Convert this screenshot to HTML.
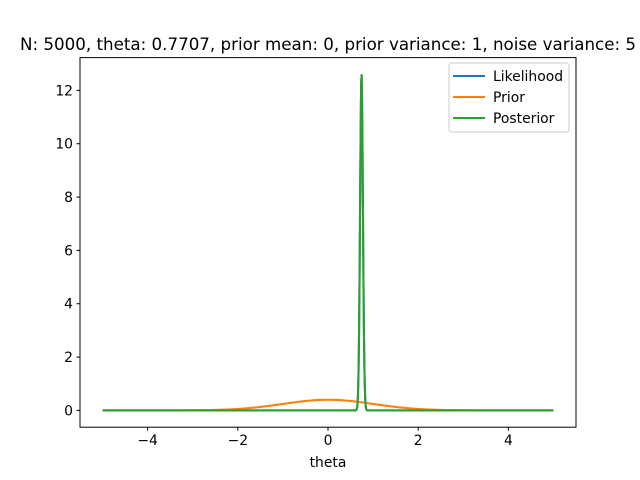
<!DOCTYPE html>
<html><head><meta charset="utf-8"><style>
body{margin:0;background:#fff}
svg{display:block;font-family:"DejaVu Sans","Liberation Sans",sans-serif}
</style></head><body>
<svg id="chart" width="640" height="480" viewBox="0 0 640 480">
<rect width="640" height="480" fill="#fff"/>
<text x="328" y="50" font-size="16.7" text-anchor="middle">N: 5000, theta: 0.7707, prior mean: 0, prior variance: 1, noise variance: 5</text>
<g id="plot"></g>
<g id="xticks"></g>
<g id="yticks"></g>
<rect x="80" y="57.6" width="496" height="369.6" fill="none" stroke="#000" stroke-width="1"/>
<text x="328" y="467" font-size="13.9" text-anchor="middle">theta</text>
<g>
<rect x="449" y="63" width="120" height="69" rx="3" fill="#fff" fill-opacity="0.8" stroke="#ccc"/>
<line x1="453" y1="76" x2="485" y2="76" stroke="#1f77b4" stroke-width="2.08"/>
<text x="493" y="81" font-size="13.9">Likelihood</text>
<line x1="453" y1="97" x2="485" y2="97" stroke="#ff7f0e" stroke-width="2.08"/>
<text x="493" y="102" font-size="13.9">Prior</text>
<line x1="453" y1="118" x2="485" y2="118" stroke="#2ca02c" stroke-width="2.08"/>
<text x="493" y="123" font-size="13.9">Posterior</text>
</g>
</svg>
<script>
const seriesNames = ["Likelihood", "Prior", "Posterior"];
const seriesMeans = [0.743, 0, 0.743];
const seriesVariances = [0.001, 1, 0.000999];
const seriesColors = ["#1f77b4", "#ff7f0e", "#2ca02c"];
const xTickValues = [-4, -2, 0, 2, 4];
const yTickValues = [0, 2, 4, 6, 8, 10, 12];
const xDomain = [-5, 5];
const nPoints = 1000;

const NS = "http://www.w3.org/2000/svg";
const xMin = -5.5, xMax = 5.5, yMin = -0.63, yMax = 13.23;
const L = 80, R = 576, T = 57.6, B = 427.2;
function sx(v){return L + (v - xMin) / (xMax - xMin) * (R - L);}
function sy(v){return B - (v - yMin) / (yMax - yMin) * (B - T);}
function pdf(x, m, v){return Math.exp(-(x-m)*(x-m)/(2*v)) / Math.sqrt(2*Math.PI*v);}

const plot = document.getElementById('plot');
seriesNames.forEach((name, i) => {
  let d = "";
  for (let k = 0; k < nPoints; k++) {
    const x = xDomain[0] + (xDomain[1]-xDomain[0]) * k / (nPoints-1);
    const y = pdf(x, seriesMeans[i], seriesVariances[i]);
    d += (k ? "L" : "M") + sx(x).toFixed(2) + "," + sy(y).toFixed(2);
  }
  const p = document.createElementNS(NS, "path");
  p.setAttribute("d", d);
  p.setAttribute("fill", "none");
  p.setAttribute("stroke", seriesColors[i]);
  p.setAttribute("stroke-width", "2.08");
  p.setAttribute("stroke-linejoin", "round");
  
  
  plot.appendChild(p);
});

const xg = document.getElementById('xticks');
xTickValues.forEach(v => {
  const l = document.createElementNS(NS, "line");
  l.setAttribute("x1", sx(v)); l.setAttribute("x2", sx(v));
  l.setAttribute("y1", B); l.setAttribute("y2", B + 3.5);
  l.setAttribute("stroke", "#000");
  
  
  xg.appendChild(l);
  const t = document.createElementNS(NS, "text");
  t.setAttribute("x", sx(v)); t.setAttribute("y", B + 18);
  t.setAttribute("font-size", "13.9"); t.setAttribute("text-anchor", "middle");
  t.textContent = v < 0 ? "\u2212" + (-v) : String(v);
  
  
  xg.appendChild(t);
});
const yg = document.getElementById('yticks');
yTickValues.forEach(v => {
  const l = document.createElementNS(NS, "line");
  l.setAttribute("x1", L - 3.5); l.setAttribute("x2", L);
  l.setAttribute("y1", sy(v)); l.setAttribute("y2", sy(v));
  l.setAttribute("stroke", "#000");
  
  
  yg.appendChild(l);
  const t = document.createElementNS(NS, "text");
  t.setAttribute("x", L - 7); t.setAttribute("y", sy(v) + 5);
  t.setAttribute("font-size", "13.9"); t.setAttribute("text-anchor", "end");
  t.textContent = String(v);
  
  
  yg.appendChild(t);
});
</script>
</body></html>
